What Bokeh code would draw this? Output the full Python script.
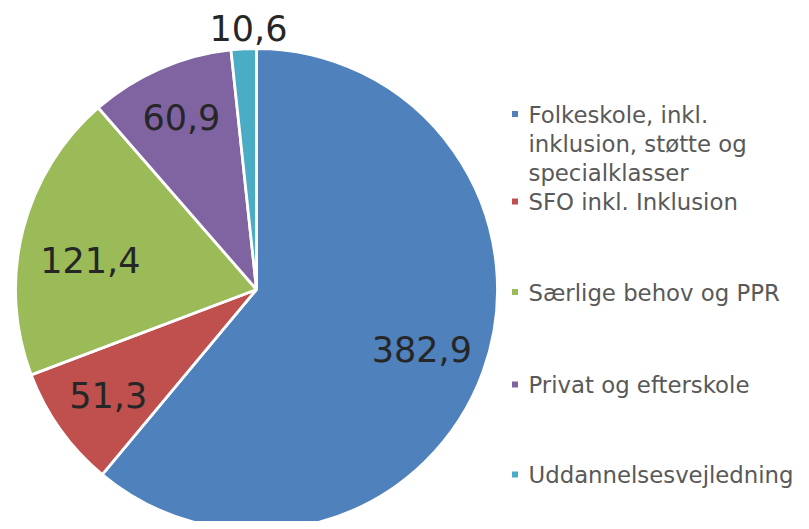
import math
from bokeh.plotting import figure
from bokeh.models import Range1d, ColumnDataSource
from bokeh.embed import file_html
from bokeh.resources import INLINE
from bokeh.core.properties import value

# ---- data ----
categories = [
    "Folkeskole, inkl.\ninklusion, støtte og\nspecialklasser",
    "SFO inkl. Inklusion",
    "Særlige behov og PPR",
    "Privat og efterskole",
    "Uddannelsesvejledning",
]
values = [382.9, 51.3, 121.4, 60.9, 10.6]
value_labels = ["382,9", "51,3", "121,4", "60,9", "10,6"]
colors = ["#4F81BD", "#C0504D", "#9BBB59", "#8064A2", "#4BACC6"]

# ---- layout (canvas pixels) ----
W, H = 801, 521
def Y(py):
    return H - py

CX, CY, R = 256, 289, 241
label_r = [0.73, 0.755, 0.70, 0.78, 1.087]
label_da = [0.0, 0.0, 4.0, 0.0, -1.3]
LABEL_FS = 35
LEG_FS = 22.8
leg_square_x = 514.5
leg_text_x = 528
leg_first_y = [114, 201.5, 292, 384.5, 474.5]
leg_line_step = 29.3

p = figure(width=W, height=H, x_range=Range1d(0, W), y_range=Range1d(0, H),
           output_backend="svg", toolbar_location=None, min_border=0)
p.xaxis.visible = False
p.yaxis.visible = False
p.grid.visible = False
p.outline_line_color = None
p.background_fill_color = "white"
p.border_fill_color = "white"

total = sum(values)
starts, ends, mids = [], [], []
cum = 0.0
for v in values:
    a0 = 90 - 360 * (cum + v) / total
    a1 = 90 - 360 * cum / total
    starts.append(a0)
    ends.append(a1)
    mids.append((a0 + a1) / 2)
    cum += v

src = ColumnDataSource(dict(x=[CX] * len(values), y=[Y(CY)] * len(values),
                            start=starts, end=ends, color=colors))
p.wedge(x="x", y="y", radius=R, start_angle="start", end_angle="end",
        start_angle_units="deg", end_angle_units="deg", fill_color="color",
        line_color="white", line_width=2.8, source=src)

# value labels
lx, ly = [], []
for m, rf, da in zip(mids, label_r, label_da):
    a = math.radians(m + da)
    lx.append(CX + rf * R * math.cos(a))
    ly.append(Y(CY) + rf * R * math.sin(a))
p.text(x=lx, y=ly, text=value_labels, text_font=value("DejaVu Sans"),
       text_font_size=f"{LABEL_FS}px", text_color="#262626",
       text_align="center", text_baseline="alphabetic")

# legend
sq_x, sq_y, sq_c = [], [], []
tx, ty, tt = [], [], []
for cat, c, y0 in zip(categories, colors, leg_first_y):
    sq_x.append(leg_square_x)
    sq_y.append(Y(y0 - 0.5))
    sq_c.append(c)
    for i, line in enumerate(cat.split("\n")):
        tx.append(leg_text_x)
        ty.append(Y(y0 + i * leg_line_step))
        tt.append(line)
p.scatter(x=sq_x, y=sq_y, marker="square", size=6, fill_color=sq_c, line_color=None)
p.text(x=tx, y=ty, text=tt, text_font=value("DejaVu Sans"),
       text_font_size=f"{LEG_FS}px", text_color="#595959",
       text_align="left", text_baseline="alphabetic")

open("out.html", "w").write(file_html(p, INLINE))
